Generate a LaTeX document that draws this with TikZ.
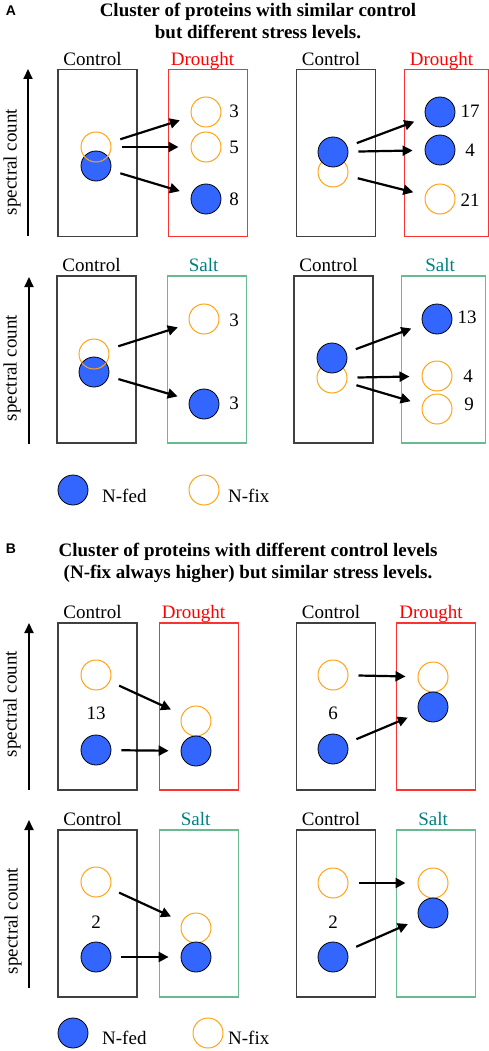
\documentclass[tikz,border=0pt]{standalone}
\usepackage{fontspec}
\setmainfont{Liberation Serif}
\newfontfamily\tagfont{Liberation Sans}
\usetikzlibrary{arrows.meta,positioning}
\definecolor{fedblue}{RGB}{51,102,255}
\definecolor{fixorange}{RGB}{255,163,26}
\definecolor{droughtred}{RGB}{250,50,50}
\definecolor{saltgreen}{RGB}{105,185,145}
\definecolor{saltteal}{RGB}{0,128,128}
\definecolor{boxgray}{RGB}{64,64,64}
\tikzset{
  lbl/.style={font=\fontsize{19}{19}\selectfont,inner sep=0pt,text depth=0pt,label distance=3.5pt},
  cond/.style={rectangle,draw=boxgray,line width=1.1pt,minimum width=79pt,minimum height=167pt,inner sep=0pt},
  ctl/.style={cond,label={[lbl,xshift=-5pt]above:Control}},
  dry/.style={cond,draw=droughtred,label={[lbl,text=red,xshift=-5pt]above:Drought}},
  salt/.style={cond,draw=saltgreen,label={[lbl,text=saltteal,xshift=-3pt]above:Salt}},
  fed/.style={circle,draw=black,fill=fedblue,line width=0.8pt,minimum size=30pt,inner sep=0pt},
  fix/.style={circle,draw=fixorange,line width=1pt,minimum size=30pt,inner sep=0pt},
  num/.style={font=\fontsize{19}{19}\selectfont,inner sep=0pt},
  lgtxt/.style={num,anchor=base west},
  ylbl/.style={num,rotate=90},
  ttl/.style={font=\bfseries\fontsize{19}{22}\selectfont,align=center,inner sep=0pt},
  tag/.style={font=\tagfont\bfseries\fontsize{14}{14}\selectfont,inner sep=0pt},
  flow/.style={-{Triangle[length=10pt,width=10pt]},line width=2.2pt,shorten <=10pt,shorten >=12pt},
  axis/.style={-{Triangle[length=10pt,width=9pt]},line width=2pt},
}
\begin{document}
\begin{tikzpicture}[x=1pt,y=-1pt]
  \useasboundingbox (0,0) rectangle (489,1051);
  % panel A
  \node[tag] (tagA) at (11,11) {A};
  \node[ttl] (ttlA) at (258,21) {Cluster of proteins with similar control\\but different stress levels.};
  % A, drought
  \node[ctl] (ctlA1) at (97.5,153) {};
  \node[dry,right=30pt of ctlA1] (dryA1) {};
  \node[ctl] (ctlA1r) at (336,153) {};
  \node[dry,minimum width=84pt,right=28pt of ctlA1r] (dryA1r) {};
  \coordinate (axA1s) at (28,236);
  \coordinate (axA1e) at (28,69);
  \draw[axis] (axA1s) -- (axA1e);
  \node[ylbl] (ylA1) at (12,162) {spectral count};
  \node[fed] (fedA1) at (96,166) {};
  \node[fix] (fixA1) at (96,147) {};
  \node[fix] (dA1a) at (206,112) {};
  \node[fix] (dA1b) at (206,147) {};
  \node[fed] (dA1c) at (206,199) {};
  \node[num] (nA1a) at (234,111) {3};
  \node[num] (nA1b) at (234,147) {5};
  \node[num] (nA1c) at (234,199) {8};
  \draw[flow] (fixA1) -- (dA1a);
  \draw[flow] (fixA1) -- (dA1b);
  \draw[flow] (fedA1) -- (dA1c);
  \node[fix] (fixA1r) at (333,172) {};
  \node[fed] (fedA1r) at (333,152) {};
  \node[fed] (dA1ra) at (440,112) {};
  \node[fed] (dA1rb) at (440,150) {};
  \node[fix] (dA1rc) at (440,199) {};
  \node[num] (nA1ra) at (470,111) {17};
  \node[num] (nA1rb) at (470,150) {4};
  \node[num] (nA1rc) at (470,200) {21};
  \draw[flow] (fedA1r) -- (dA1ra);
  \draw[flow] (fedA1r) -- (dA1rb);
  \draw[flow] (fixA1r) -- (dA1rc);
  % A, salt
  \node[ctl] (ctlA2) at (96.5,359.5) {};
  \node[salt,right=30pt of ctlA2] (sltA2) {};
  \node[ctl] (ctlA2r) at (333.5,359.5) {};
  \node[salt,minimum width=84pt,right=27pt of ctlA2r] (sltA2r) {};
  \coordinate (axA2s) at (29,444);
  \coordinate (axA2e) at (29,277);
  \draw[axis] (axA2s) -- (axA2e);
  \node[ylbl] (ylA2) at (12,368) {spectral count};
  \node[fed] (fedA2) at (94,372) {};
  \node[fix] (fixA2) at (94,354) {};
  \node[fix] (sA2a) at (204,319) {};
  \node[fed] (sA2b) at (204,404) {};
  \node[num] (nA2a) at (234,320) {3};
  \node[num] (nA2b) at (234,403) {3};
  \draw[flow] (fixA2) -- (sA2a);
  \draw[flow] (fedA2) -- (sA2b);
  \node[fix] (fixA2r) at (332,378) {};
  \node[fed] (fedA2r) at (332,358) {};
  \node[fed] (sA2ra) at (437,319) {};
  \node[fix] (sA2rb) at (437,376) {};
  \node[fix] (sA2rc) at (437,409) {};
  \node[num] (nA2ra) at (467,317) {13};
  \node[num] (nA2rb) at (468,376) {4};
  \node[num] (nA2rc) at (469,404) {9};
  \draw[flow] (fedA2r) -- (sA2ra);
  \draw[flow] (fixA2r) -- (sA2rb);
  \draw[flow] (fixA2r) -- (sA2rc);
  % A, legend
  \node[fed] (lgfedA) at (73,490) {};
  \node[lgtxt] (lgfedAt) at (102,502) {N-fed};
  \node[fix] (lgfixA) at (204,490) {};
  \node[lgtxt] (lgfixAt) at (228,502) {N-fix};

  % panel B
  \node[tag] (tagB) at (11,549) {B};
  \node[ttl] (ttlB) at (248,563) {Cluster of proteins with different control levels\\(N-fix always higher) but similar stress levels.};
  % B, drought
  \node[ctl] (ctlB1) at (97.5,706.5) {};
  \node[dry,right=21pt of ctlB1] (dryB1) {};
  \node[ctl] (ctlB1r) at (336,706.5) {};
  \node[dry,right=20pt of ctlB1r] (dryB1r) {};
  \coordinate (axB1s) at (29,790);
  \coordinate (axB1e) at (29,623);
  \draw[axis] (axB1s) -- (axB1e);
  \node[ylbl] (ylB1) at (12,704) {spectral count};
  \node[fix] (fixB1) at (96,675) {};
  \node[num] (nB1) at (96,713) {13};
  \node[fed] (fedB1) at (96,750) {};
  \node[fix] (dB1a) at (196,721) {};
  \node[fed] (dB1b) at (196,751) {};
  \draw[flow] (fixB1) -- (dB1a);
  \draw[flow] (fedB1) -- (dB1b);
  \node[fix] (fixB1r) at (333,675) {};
  \node[num] (nB1r) at (333,713) {6};
  \node[fed] (fedB1r) at (333,749) {};
  \node[fix] (dB1ra) at (433,677) {};
  \node[fed] (dB1rb) at (433,707) {};
  \draw[flow] (fixB1r) -- (dB1ra);
  \draw[flow] (fedB1r) -- (dB1rb);
  % B, salt
  \node[ctl] (ctlB2) at (97.5,913.5) {};
  \node[salt,right=21pt of ctlB2] (sltB2) {};
  \node[ctl] (ctlB2r) at (336,913.5) {};
  \node[salt,right=20pt of ctlB2r] (sltB2r) {};
  \coordinate (axB2s) at (29,988);
  \coordinate (axB2e) at (29,820);
  \draw[axis] (axB2s) -- (axB2e);
  \node[ylbl] (ylB2) at (13,921) {spectral count};
  \node[fix] (fixB2) at (96,882) {};
  \node[num] (nB2) at (96,922) {2};
  \node[fed] (fedB2) at (96,957) {};
  \node[fix] (sB2a) at (196,928) {};
  \node[fed] (sB2b) at (196,957) {};
  \draw[flow] (fixB2) -- (sB2a);
  \draw[flow] (fedB2) -- (sB2b);
  \node[fix] (fixB2r) at (333,883) {};
  \node[num] (nB2r) at (333,922) {2};
  \node[fed] (fedB2r) at (333,957) {};
  \node[fix] (sB2ra) at (433,883) {};
  \node[fed] (sB2rb) at (433,913) {};
  \draw[flow] (fixB2r) -- (sB2ra);
  \draw[flow] (fedB2r) -- (sB2rb);
  % B, legend
  \node[fed] (lgfedB) at (73,1033) {};
  \node[lgtxt] (lgfedBt) at (102,1044) {N-fed};
  \node[fix] (lgfixB) at (208,1033) {};
  \node[lgtxt] (lgfixBt) at (228,1044) {N-fix};
\end{tikzpicture}
\end{document}
